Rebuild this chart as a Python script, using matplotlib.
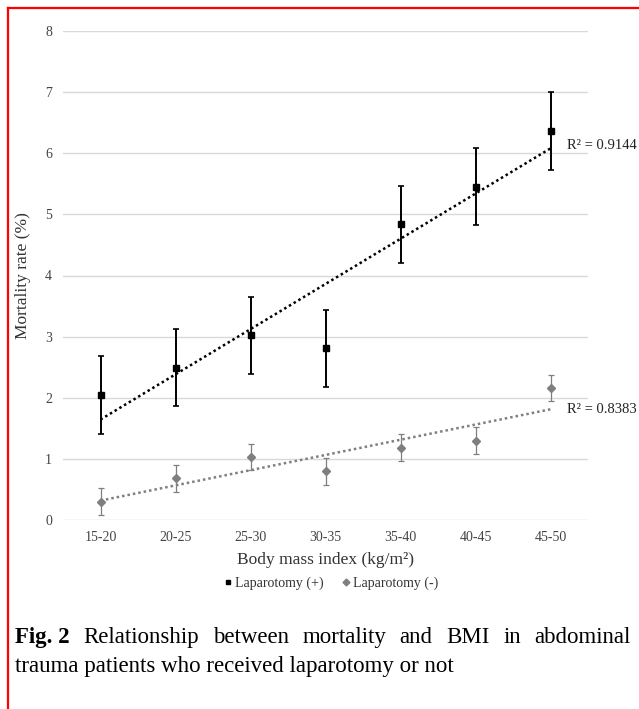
import matplotlib
import matplotlib.pyplot as plt
from matplotlib.lines import Line2D
import numpy as np

matplotlib.rcParams['font.family'] = ['Liberation Serif', 'DejaVu Serif']
SERIF = ['Liberation Serif', 'DejaVu Serif']

# data
categories = ['15-20', '20-25', '25-30', '30-35', '35-40', '40-45', '45-50']
lap_pos = [2.05, 2.49, 3.02, 2.81, 4.84, 5.45, 6.37]
lap_pos_err = [0.64, 0.63, 0.63, 0.63, 0.63, 0.63, 0.64]
lap_neg = [0.30, 0.68, 1.03, 0.80, 1.18, 1.30, 2.16]
lap_neg_err = [0.22, 0.22, 0.22, 0.22, 0.22, 0.22, 0.22]
r2_pos = 'R² = 0.9144'
r2_neg = 'R² = 0.8383'

W, H = 639, 709
fig = plt.figure(figsize=(W / 100, H / 100), dpi=100)
ax = fig.add_axes([63 / W, 1 - 520 / H, (588 - 63) / W, (520 - 31) / H])

x = np.arange(len(categories))
gray = '#7f7f7f'

# trend lines (linear fit, like Excel)
for vals, col in ((lap_pos, 'black'), (lap_neg, gray)):
    k, b = np.polyfit(x, vals, 1)
    ax.plot([x[0], x[-1]], [k * x[0] + b, k * x[-1] + b], color=col,
            linestyle=(0, (1, 1.2)), linewidth=1.8, zorder=2)

ax.errorbar(x, lap_pos, yerr=lap_pos_err, fmt='none', ecolor='black',
            elinewidth=1.4, capsize=2.5, capthick=1.2, zorder=3)
ax.errorbar(x, lap_neg, yerr=lap_neg_err, fmt='none', ecolor=gray,
            elinewidth=0.9, capsize=2.5, capthick=0.9, zorder=3)
ax.plot(x, lap_pos, linestyle='none', marker='s', markersize=4.2,
        color='black', zorder=4)
ax.plot(x, lap_neg, linestyle='none', marker='D', markersize=4.5,
        color=gray, zorder=4)

k, b = np.polyfit(x, lap_pos, 1)
ax.text(x[-1] + 0.22, k * x[-1] + b + 0.04, r2_pos, fontsize=10.5,
        va='center', ha='left', color='#222222', family=SERIF)
k, b = np.polyfit(x, lap_neg, 1)
ax.text(x[-1] + 0.22, k * x[-1] + b, r2_neg, fontsize=10.5,
        va='center', ha='left', color='#222222', family=SERIF)

ax.set_xlim(-0.5, 6.5)
ax.set_ylim(0, 8)
ax.set_xticks(x)
ax.set_xticklabels(categories, fontsize=10, color='#444444')
ax.set_yticks(np.arange(0, 9, 1))
ax.tick_params(axis='y', labelsize=10, labelcolor='#444444', length=0, pad=8)
ax.tick_params(axis='x', length=0, pad=8)
ax.grid(axis='y', color='#d9d9d9', linewidth=1)
ax.set_axisbelow(True)
for s in ax.spines.values():
    s.set_visible(False)

ax.set_xlabel('Body mass index (kg/m²)', fontsize=12.5, color='#333333', labelpad=6)
ax.set_ylabel('Mortality rate (%)', fontsize=12.5, color='#333333', labelpad=10)

handles = [Line2D([], [], linestyle='none', marker='s', markersize=3.5, color='black'),
           Line2D([], [], linestyle='none', marker='D', markersize=3.5, color=gray)]
fig.legend(handles, ['Laparotomy (+)', 'Laparotomy (-)'], loc='center',
           bbox_to_anchor=(330 / W, 1 - 583 / H), ncol=2, frameon=False,
           fontsize=10, handletextpad=0.1, columnspacing=1.2, handlelength=0.8,
           labelcolor='#333333')

# caption, first line justified
renderer = fig.canvas.get_renderer()
words = ['Fig. 2', 'Relationship', 'between', 'mortality', 'and', 'BMI', 'in', 'abdominal']
left, right = 15, 631
y1 = 1 - 643 / H
texts = []
for i, w in enumerate(words):
    t = fig.text(0, y1, w, fontsize=16.5, va='baseline', ha='left', family=SERIF,
                 fontweight='bold' if i == 0 else 'normal', color='black')
    texts.append(t)
widths = [t.get_window_extent(renderer).width for t in texts]
gap = (right - left - sum(widths)) / (len(words) - 1)
pos = left
for t, w in zip(texts, widths):
    t.set_x(pos / W)
    pos += w + gap
fig.text(left / W, 1 - 672 / H, 'trauma patients who received laparotomy or not',
         fontsize=16.5, va='baseline', ha='left', color='black', family=SERIF)

# red frame on top and left
fig.add_artist(Line2D([8 / W, 8 / W], [0, 1 - 8 / H], color='red', linewidth=1.6))
fig.add_artist(Line2D([8 / W, 1], [1 - 8 / H, 1 - 8 / H], color='red', linewidth=1.6))

fig.savefig('out.png', dpi=100)
